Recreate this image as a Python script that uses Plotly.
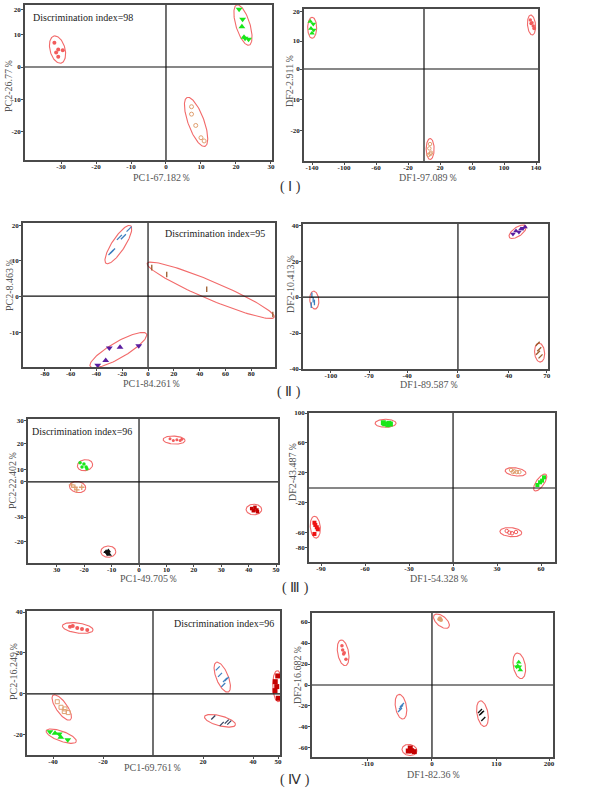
import numpy as np
import plotly.graph_objects as go

W, H = 592, 804

# ---------------- data ----------------
# Panel I  PCA
i_pca_red_x = [-31.9, -30.8, -31.4, -29.5, -30.8]
i_pca_red_y = [7.5, 5.4, 4.5, 5.2, 3.2]
i_pca_green_x = [20.9, 21.9, 21.7, 22.3, 22.6, 23.6]
i_pca_green_y = [17.9, 14.8, 12.5, 9.2, 8.9, 8.6]
i_pca_orange_x = [7.3, 7.3, 8.5, 10.0, 10.9]
i_pca_orange_y = [-12.3, -14.6, -18.1, -21.9, -22.9]
# Panel I  DFA
i_dfa_green_x = [-142.1, -138.4, -141.3, -137.9, -140.0]
i_dfa_green_y = [15.4, 14.6, 13.2, 12.7, 11.6]
i_dfa_red_x = [132.9, 135.0, 136.6, 137.5, 133.8]
i_dfa_red_y = [15.9, 15.0, 14.0, 13.2, 14.8]
i_dfa_orange_x = [7.5, 6.7, 8.7, 5.8, 7.9]
i_dfa_orange_y = [-24.4, -25.8, -27.2, -27.9, -27.6]
# Panel II PCA
ii_pca_blue_x = [-28.7, -27.5, -22.2, -19.1, -14.7]
ii_pca_blue_y = [12.1, 12.5, 16.3, 16.5, 18.6]
ii_pca_brown_x = [2.9, 14.5, 45.5, 96.7]
ii_pca_brown_y = [7.9, 6.0, 1.9, -5.1]
ii_pca_purple_x = [-30.0, -21.7, -7.2, -32.8, -39.0]
ii_pca_purple_y = [-14.4, -14.2, -13.8, -17.9, -19.2]
# Panel II DFA
ii_dfa_purple_x = [43.3, 45.7, 48.0, 49.6, 51.2, 52.8]
ii_dfa_purple_y = [35.0, 36.7, 36.1, 37.8, 38.3, 38.9]
ii_dfa_blue_x = [-115.0, -114.0, -113.0, -115.5]
ii_dfa_blue_y = [1.0, -1.5, -3.0, -4.5]
ii_dfa_brown_x = [62.8, 64.0, 63.0, 65.0]
ii_dfa_brown_y = [-26.0, -29.0, -31.0, -33.0]
# Panel III PCA
iii_pca_green_x = [-21.5, -20.1, -20.8, -19.3, -19.0]
iii_pca_green_y = [7.9, 7.4, 6.2, 6.2, 5.4]
iii_pca_orange_x = [-24.6, -22.7, -20.9, -23.4]
iii_pca_orange_y = [-1.2, -3.3, -2.2, -2.2]
iii_pca_pink_x = [11.3, 12.5, 13.8, 15.0, 15.6]
iii_pca_pink_y = [17.8, 17.1, 17.4, 17.1, 17.6]
iii_pca_dred_x = [41.1, 42.3, 43.0, 41.7, 43.2]
iii_pca_dred_y = [-11.0, -10.5, -11.6, -11.9, -12.3]
iii_pca_black_x = [-12.0, -11.6, -11.2, -11.8, -10.9]
iii_pca_black_y = [-28.8, -29.5, -28.5, -29.2, -30.0]
# Panel III DFA
iii_dfa_green_x = [-47.5, -45.7, -43.8, -46.8, -44.5, -42.7]
iii_dfa_green_y = [87.0, 86.3, 86.3, 84.0, 82.7, 85.3]
iii_dfa_orange_x = [39.5, 41.8, 43.4, 45.2, 40.7]
iii_dfa_orange_y = [24.0, 22.3, 21.3, 21.3, 21.3]
iii_dfa_green2_x = [57.5, 59.3, 60.7, 62.0]
iii_dfa_green2_y = [4.0, 7.6, 9.8, 14.2]
iii_dfa_red_x = [-94.5, -93.9, -92.9, -92.2, -94.5]
iii_dfa_red_y = [-46.3, -49.3, -52.4, -55.1, -61.3]
iii_dfa_pink_x = [36.6, 38.4, 40.2, 42.9]
iii_dfa_pink_y = [-57.3, -59.6, -60.4, -58.7]
# Panel IV PCA
iv_pca_pink_x = [-33.2, -32.1, -30.3, -28.4, -26.3]
iv_pca_pink_y = [32.8, 33.2, 32.2, 31.7, 31.2]
iv_pca_blue_x = [25.9, 26.8, 28.8, 28.1, 29.5]
iv_pca_blue_y = [12.5, 9.3, 6.8, 4.4, 7.3]
iv_pca_dred_x = [49.9, 48.9, 49.5, 48.8, 50.1]
iv_pca_dred_y = [8.8, 6.0, 3.6, 1.6, -2.1]
iv_pca_navy_x = [24.1, 27.5, 29.5, 30.5]
iv_pca_navy_y = [-11.5, -14.6, -13.5, -14.0]
iv_pca_orange_x = [-38.3, -36.8, -35.2, -35.5, -33.9]
iv_pca_orange_y = [-3.8, -6.5, -7.3, -8.6, -9.1]
iv_pca_green_x = [-41.2, -39.2, -37.5, -36.9, -34.1]
iv_pca_green_y = [-18.4, -19.2, -19.5, -21.1, -22.4]
# Panel IV DFA
iv_dfa_orange_x = [13.7, 15.4, 12.5]
iv_dfa_orange_y = [63.5, 61.9, 62.6]
iv_dfa_pink_x = [-153.8, -152.6, -149.9, -150.9, -147.0]
iv_dfa_pink_y = [37.4, 33.3, 30.8, 29.5, 24.5]
iv_dfa_green_x = [148.2, 146.5, 149.2, 150.9, 144.8]
iv_dfa_green_y = [21.6, 18.1, 17.4, 14.3, 17.4]
iv_dfa_blue_x = [-51.3, -53.0, -54.7]
iv_dfa_blue_y = [-19.0, -21.2, -23.8]
iv_dfa_black_x = [82.1, 85.5, 87.7, 83.8]
iv_dfa_black_y = [-24.8, -26.4, -32.4, -27.0]
iv_dfa_dred_x = [-37.1, -40.5, -30.3, -34.7]
iv_dfa_dred_y = [-60.0, -62.9, -63.5, -62.6]

# tick labels
i_pca_xticks = [-30, -20, -10, 0, 10, 20, 30]
i_pca_yticks = ['20', '10', '0', '-10', '-20']
i_dfa_xticks = [-140, -100, -60, -20, 20, 60, 100, 140]
i_dfa_yticks = ['20', '10', '0', '-10', '-20']
ii_pca_xticks = [-80, -60, -40, -20, 0, 20, 40, 60, 80]
ii_pca_yticks = ['20', '10', '0', '-10']
ii_dfa_xticks = [-100, -70, -40, 0, 40, 70]
ii_dfa_yticks = [40, 20, 0, -20, -40]
iii_pca_xticks = ['30', '-20', '-10', '0', '10', '20', '30', '40', '50']
iii_pca_yticks = ['30', '20', '10', '0', '-30', '-20']
iii_dfa_xticks = [-90, -60, -30, 0, 30, 60]
iii_dfa_yticks = [100, 60, 20, -20, -60, -80]
iv_pca_xticks = [-40, -20, 20, 40, 50]
iv_pca_yticks = [40, 20, 0, -20]
iv_dfa_xticks = [-110, 0, 110, 200]
iv_dfa_yticks = [60, 40, 20, 0, -20, -40, -60]

x_titles = ['PC1-67.182％', 'DF1-97.089％', 'PC1-84.261％', 'DF1-89.587％',
            'PC1-49.705％', 'DF1-54.328％', 'PC1-69.761％', 'DF1-82.36％']
y_titles = ['PC2-26.77％', 'DF2-2.911％', 'PC2-8.463％', 'DF2-10.413％',
            'PC2-22.402％', 'DF2-43.487％', 'PC2-16.249％', 'DF2-16.682％']
panel_labels = ['( Ⅰ )', '( Ⅱ )', '( Ⅲ )', '( Ⅳ )']
disc_texts = ['Discrimination index=98', 'Discrimination index=95',
              'Discrimination index=96', 'Discrimination index=96']

# ---------------- layout geometry ----------------
boxes = [(25, 5, 272, 160), (304, 9, 538, 161),
         (23, 223, 275, 367), (303, 224, 548, 369),
         (28, 419, 278, 563), (309, 413, 555, 562),
         (27, 611, 280, 755), (312, 613, 553, 757)]
xranges = [[-40.3, 30.3], [-150, 142.5], [-96.9, 98.4], [-122, 70.9],
           [-40.5, 50.7], [-98.2, 69.5], [-50.4, 50.8], [-205, 206.8]]
yranges = [[-28.8, 19.2], [-29.9, 19.5], [-19.7, 20.3], [-40, 40.6],
           [-33.5, 26], [-98.7, 100], [-29.8, 40.5], [-68.6, 68.6]]
xtickvals = [i_pca_xticks, i_dfa_xticks, ii_pca_xticks, ii_dfa_xticks,
             [-30, -20, -10, 0, 10, 20, 30, 40, 50], iii_dfa_xticks, iv_pca_xticks, iv_dfa_xticks]
xticktext = [i_pca_xticks, i_dfa_xticks, ii_pca_xticks, ii_dfa_xticks,
             iii_pca_xticks, iii_dfa_xticks, iv_pca_xticks, iv_dfa_xticks]
ytickvals = [[17.7, 10, 0, -10, -20], [18.8, 9.1, 0, -10, -20], [19.7, 10, 0, -10], ii_dfa_yticks,
             [25.2, 15.7, 5.0, 0, -14.5, -24.8], iii_dfa_yticks, iv_pca_yticks, iv_dfa_yticks]
yticktext = [i_pca_yticks, i_dfa_yticks, ii_pca_yticks, ii_dfa_yticks,
             iii_pca_yticks, iii_dfa_yticks, iv_pca_yticks, iv_dfa_yticks]

xtitle_pos = [(162, 177), (428, 177), (152, 383), (429, 384),
              (149, 578), (439, 578), (153, 767), (434, 774)]
ytitle_pos = [(8, 86), (289, 81), (9, 285), (290, 284),
              (13, 480), (292, 472), (13, 671), (297, 675)]
label_pos = [(290, 187), (289, 392), (295, 588), (295, 780)]
disc_pos = [(83, 17), (215, 233), (82, 431), (224, 623)]

# ellipses: panel, centre x, centre y (data), semi axes (px), angle (deg on screen)
ellipses = [
    (0, -31.0, 5.4, 14, 7.5, 105), (0, 22.0, 13.0, 21, 7, 107), (0, 8.6, -17.0, 26, 8, 110),
    (1, -139.8, 13.4, 10.5, 4.5, 90), (1, 134.4, 14.3, 10, 4, 95), (1, 7.7, -26.0, 10.5, 4, 90),
    (2, -23.0, 14.3, 22.5, 6.5, 57), (2, 48.6, 1.6, 69, 9, -23), (2, -23.0, -15.0, 32.5, 8, 30),
    (3, 47.0, 36.3, 10, 4.5, 35), (3, -113.1, -1.7, 9, 4.5, 95), (3, 64.3, -30.9, 9.5, 5, 95),
    (4, -19.7, 6.9, 7.7, 5.5, 10), (4, -22.4, -2.1, 8.2, 5.5, -10), (4, 12.8, 17.3, 11, 4, -3),
    (4, 41.9, -11.4, 7.8, 5.3, 0), (4, -11.2, -28.8, 7.5, 5.7, 0),
    (5, -46.0, 86.3, 10.5, 4, 0), (5, 42.6, 21.5, 10.5, 4, -8), (5, 59.4, 7.3, 10, 4, 55),
    (5, -93.9, -52.2, 11, 5, 95), (5, 39.4, -58.9, 11, 4.5, -5),
    (6, -30.1, 32.2, 15.5, 5, -8), (6, 27.7, 8.2, 16, 6, 112), (6, 49.9, 3.8, 15.5, 5, 92),
    (6, 26.8, -13.1, 16, 5, -15), (6, -36.5, -6.6, 15, 5.5, -55), (6, -36.7, -20.6, 16, 5, -20),
    (7, 16.2, 60.8, 9.5, 5, -40), (7, -151.8, 30.7, 13, 5.5, 100), (7, 149.2, 18.3, 13, 6, 100),
    (7, -53.0, -20.7, 12.5, 5.5, 100), (7, 86.3, -27.3, 13, 5.5, 100), (7, -38.5, -61.9, 7.5, 5.5, -10),
]

RED_E = '#f26a6a'
PINK = '#f25c5c'
GREEN = '#19e619'
ORANGE = '#e0a070'
BLUE = '#3f7fbf'
BROWN = '#9a5a2a'
PURPLE = '#5a1ea0'
DRED = '#c40000'
BRED = '#ee1010'
BLACK = '#111111'
NAVY = '#33405e'

TD, TU = 'triangle-down', 'triangle-up'
groups = [
    (0, i_pca_red_x, i_pca_red_y, PINK, 'circle', 4),
    (0, i_pca_green_x, i_pca_green_y, GREEN, [TD, TD, TU, TU, TD, TD], 6),
    (0, i_pca_orange_x, i_pca_orange_y, ORANGE, 'circle-open', 4),
    (1, i_dfa_green_x, i_dfa_green_y, GREEN, [TU, TD, TU, TD, TU], 5),
    (1, i_dfa_red_x, i_dfa_red_y, PINK, 'circle', 3.5),
    (1, i_dfa_orange_x, i_dfa_orange_y, ORANGE, 'circle-open', 3.5),
    (2, ii_pca_blue_x, ii_pca_blue_y, BLUE, 'line-ne', 5),
    (2, ii_pca_brown_x, ii_pca_brown_y, BROWN, 'line-ns', 4),
    (2, ii_pca_purple_x, ii_pca_purple_y, PURPLE, [TD, TU, TD, TU, TD], 6),
    (3, ii_dfa_purple_x, ii_dfa_purple_y, PURPLE, [TD, TU, TD, TU, TD, TU], 5),
    (3, ii_dfa_blue_x, ii_dfa_blue_y, BLUE, 'line-ns', 4),
    (3, ii_dfa_brown_x, ii_dfa_brown_y, BROWN, 'line-ne', 4),
    (4, iii_pca_green_x, iii_pca_green_y, GREEN, 'circle', 3.5),
    (4, iii_pca_orange_x, iii_pca_orange_y, ORANGE, 'cross-thin-open', 4),
    (4, iii_pca_pink_x, iii_pca_pink_y, PINK, 'circle', 3),
    (4, iii_pca_dred_x, iii_pca_dred_y, DRED, 'square', 3.5),
    (4, iii_pca_black_x, iii_pca_black_y, BLACK, [TU, TD, TU, TD, TU], 5),
    (5, iii_dfa_green_x, iii_dfa_green_y, GREEN, ['square', TD, 'square', TU, TU, 'square'], 5),
    (5, iii_dfa_orange_x, iii_dfa_orange_y, ORANGE, 'circle-open', 3.5),
    (5, iii_dfa_green2_x, iii_dfa_green2_y, GREEN, 'square', 4),
    (5, iii_dfa_red_x, iii_dfa_red_y, BRED, 'square', 4),
    (5, iii_dfa_pink_x, iii_dfa_pink_y, PINK, 'circle-open', 3.5),
    (6, iv_pca_pink_x, iv_pca_pink_y, PINK, 'circle', 4),
    (6, iv_pca_blue_x, iv_pca_blue_y, BLUE, 'line-ne', 4),
    (6, iv_pca_dred_x, iv_pca_dred_y, DRED, 'square', 5),
    (6, iv_pca_navy_x, iv_pca_navy_y, NAVY, 'line-ne', 4),
    (6, iv_pca_orange_x, iv_pca_orange_y, ORANGE, 'square-open', 4),
    (6, iv_pca_green_x, iv_pca_green_y, GREEN, [TD, TU, TD, TU, TD], 6),
    (7, iv_dfa_orange_x, iv_dfa_orange_y, ORANGE, 'circle', 4),
    (7, iv_dfa_pink_x, iv_dfa_pink_y, PINK, 'circle', 3.5),
    (7, iv_dfa_green_x, iv_dfa_green_y, GREEN, [TU, TU, TD, TU, TD], 5),
    (7, iv_dfa_blue_x, iv_dfa_blue_y, BLUE, 'line-ne', 4),
    (7, iv_dfa_black_x, iv_dfa_black_y, BLACK, 'line-ne', 4),
    (7, iv_dfa_dred_x, iv_dfa_dred_y, DRED, 'square', 5),
]

SERIF = 'Liberation Serif, Times New Roman, serif'

fig = go.Figure()


def axnames(i):
    return ('x' if i == 0 else f'x{i+1}', 'y' if i == 0 else f'y{i+1}')


# ellipses
t = np.linspace(0, 2 * np.pi, 120)
for (p, cx, cy, a, b, ang) in ellipses:
    x0, y0, x1, y1 = boxes[p]
    sx = (x1 - x0) / (xranges[p][1] - xranges[p][0])
    sy = (y1 - y0) / (yranges[p][1] - yranges[p][0])
    th = np.deg2rad(ang)
    dx = a * np.cos(t) * np.cos(th) - b * np.sin(t) * np.sin(th)
    dy = a * np.cos(t) * np.sin(th) + b * np.sin(t) * np.cos(th)
    xa, ya = axnames(p)
    fig.add_trace(go.Scatter(x=cx + dx / sx, y=cy + dy / sy, mode='lines',
                             line=dict(color=RED_E, width=1.1), xaxis=xa, yaxis=ya,
                             hoverinfo='skip', showlegend=False))

# points
for (p, xs, ys, col, sym, size) in groups:
    xa, ya = axnames(p)
    lw = 1.3 if (isinstance(sym, str) and sym.startswith(('line', 'cross'))) else (1 if isinstance(sym, str) and sym.endswith('open') else 0)
    fig.add_trace(go.Scatter(x=xs, y=ys, mode='markers', xaxis=xa, yaxis=ya,
                             marker=dict(color=col, symbol=sym, size=size,
                                         line=dict(color=col, width=lw)),
                             showlegend=False))

layout = dict(width=W, height=H, margin=dict(l=0, r=0, t=0, b=0, autoexpand=False),
              paper_bgcolor='white', plot_bgcolor='white', showlegend=False)
shapes = []
annotations = []
tickfont = dict(family=SERIF, size=7, color='#222222', weight='bold')
for i in range(8):
    x0, y0, x1, y1 = boxes[i]
    xa, ya = axnames(i)
    xkey = 'xaxis' if i == 0 else f'xaxis{i+1}'
    ykey = 'yaxis' if i == 0 else f'yaxis{i+1}'
    layout[xkey] = dict(domain=[x0 / W, x1 / W], range=xranges[i], anchor=ya,
                        showgrid=False, zeroline=False, showline=True, mirror=True,
                        linecolor='#4a4a4a', linewidth=1.5, ticks='outside', ticklen=2,
                        tickcolor='#4a4a4a', tickvals=xtickvals[i], ticktext=[str(v) for v in xticktext[i]],
                        tickfont=tickfont, fixedrange=True, automargin=False, ticklabelstandoff=-3)
    layout[ykey] = dict(domain=[1 - y1 / H, 1 - y0 / H], range=yranges[i], anchor=xa,
                        showgrid=False, zeroline=False, showline=True, mirror=True,
                        linecolor='#4a4a4a', linewidth=1.5, ticks='outside', ticklen=2,
                        tickcolor='#4a4a4a', tickvals=ytickvals[i], ticktext=[str(v) for v in yticktext[i]],
                        tickfont=tickfont, fixedrange=True, automargin=False, ticklabelstandoff=-1)
    shapes.append(dict(type='line', xref=xa, yref=f'{ya} domain', x0=0, x1=0, y0=0, y1=1,
                       line=dict(color='#111111', width=1.2)))
    shapes.append(dict(type='line', xref=f'{xa} domain', yref=ya, x0=0, x1=1, y0=0, y1=0,
                       line=dict(color='#111111', width=1.2)))
    tx, ty = xtitle_pos[i]
    annotations.append(dict(text=x_titles[i], x=tx / W, y=1 - ty / H, xref='paper', yref='paper',
                            showarrow=False, xanchor='center', yanchor='middle',
                            font=dict(family=SERIF, size=10, color='#555555')))
    tx, ty = ytitle_pos[i]
    annotations.append(dict(text=y_titles[i], x=tx / W, y=1 - ty / H, xref='paper', yref='paper',
                            showarrow=False, xanchor='center', yanchor='middle', textangle=-90,
                            font=dict(family=SERIF, size=10, color='#555555')))

for k in range(4):
    lx, ly = label_pos[k]
    annotations.append(dict(text=panel_labels[k], x=lx / W, y=1 - ly / H, xref='paper', yref='paper',
                            showarrow=False, xanchor='center', yanchor='middle',
                            font=dict(family=SERIF, size=14, color='#333333')))
    dx_, dy_ = disc_pos[k]
    annotations.append(dict(text=disc_texts[k], x=dx_ / W, y=1 - dy_ / H, xref='paper', yref='paper',
                            showarrow=False, xanchor='center', yanchor='middle',
                            font=dict(family=SERIF, size=10, color='#222222')))

layout['shapes'] = shapes
layout['annotations'] = annotations
fig.update_layout(**layout)
fig.write_html('out.html', config={'displayModeBar': False},
               post_script="document.body.style.margin='0';document.body.style.padding='0';document.body.style.overflow='hidden';")
